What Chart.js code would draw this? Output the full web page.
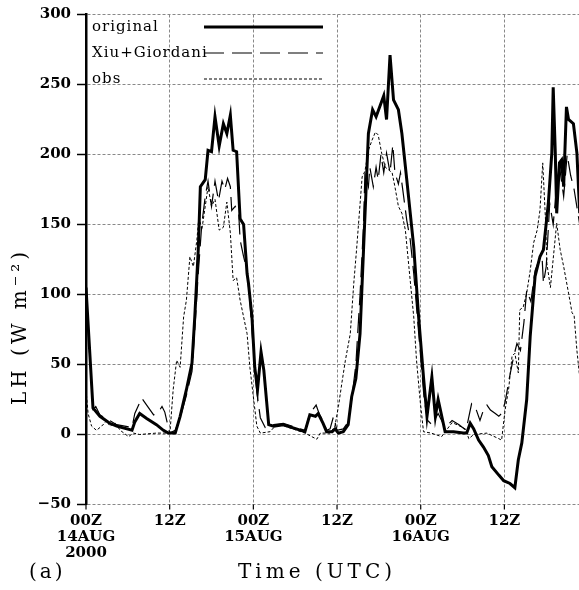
<!DOCTYPE html>
<html>
<head>
<meta charset="utf-8">
<script src="https://cdn.jsdelivr.net/npm/chart.js@4.4.1/dist/chart.umd.min.js"></script>
<style>
  html, body { margin: 0; padding: 0; background: #fff; }
  canvas { display: block; }
</style>
</head>
<body>
<canvas id="lh" width="579" height="590"></canvas>
<script>
// hours since 00Z 14AUG2000, LH in W m-2
const hoursOriginal = [0, 1.0, 2.0, 3.4, 4.4, 6.6, 7.0, 7.7, 8.7, 10.1, 11.1, 11.8, 12.8, 13.5, 14.4, 15.2, 15.6, 16.1, 16.4, 17.1,
  17.5, 18.0, 18.5, 19.1, 19.7, 20.2, 20.7, 21.1, 21.6, 22.1, 22.6, 23.1, 23.3, 23.8, 24.2, 24.6, 25.1, 25.5, 26.2, 26.9,
  28.3, 31.4, 32.1, 32.9, 33.3, 34.0, 34.5, 35.3, 35.7, 36.2, 36.9, 37.6, 38.1, 38.7, 39.3, 39.8, 40.5, 41.1, 41.6, 42.7,
  43.1, 43.6, 44.1, 44.8, 45.3, 46.0, 47.0, 47.7, 48.4, 48.9, 49.6, 50.1, 50.5, 51.5, 52.7, 54.1, 54.6, 55.1, 55.6, 56.3,
  57.0, 57.7, 58.2, 59.2, 59.9, 60.8, 61.5, 62.0, 62.5, 63.2, 63.7, 64.4, 65.1, 65.6, 66.3, 66.8, 67.0, 67.3, 67.5, 67.9,
  68.2, 68.5, 68.9, 69.2, 69.9, 70.4, 70.8];
const lhOriginal = [105, 19, 13, 8, 6, 3, 9, 15, 11.5, 7, 3, 1, 1, 13, 32, 51, 84, 132, 177, 182,
  203, 202, 227, 206, 222, 215, 228, 203, 202, 154, 150, 115, 108, 84, 48, 32, 59, 46, 7, 6,
  7, 2, 14, 13, 15, 8, 2, 2, 4, 1, 2, 7, 27, 40, 72, 132, 215, 232, 227, 242,
  225, 271, 239, 232, 215, 182, 134, 84, 41, 13, 41, 13, 25, 2, 2, 1, 1, 8, 4, -4,
  -9, -15, -23, -29, -33, -35, -38, -18, -6, 25, 70, 113, 127, 132, 165, 201, 248, 201, 158, 194,
  196, 177, 234, 225, 222, 201, 158];

const hoursXiu = [0, 1.0, 1.4, 2.0, 3.4, 4.4, 6.6, 7.0, 8.0, 8.7, 9.7, 10.4, 10.9, 11.3, 12.0, 12.8, 13.5, 14.4, 15.2, 15.6,
  16.1, 16.6, 17.1, 17.5, 18.0, 18.5, 19.0, 19.5, 19.9, 20.3, 20.7, 20.9, 21.4, 21.9, 22.1, 22.6, 23.1, 23.5, 24.0, 24.5,
  25.0, 25.7, 26.9, 28.3, 31.4, 32.1, 33.0, 33.5, 34.0, 34.5, 35.0, 35.5, 36.0, 36.9, 37.6, 38.1, 38.7, 39.3, 39.8, 40.0,
  40.5, 40.7, 41.2, 41.6, 41.9, 42.3, 42.7, 43.1, 43.6, 44.0, 44.3, 44.8, 45.1, 45.5, 46.0, 46.5, 47.0, 47.5, 48.0, 48.5,
  49.0, 49.6, 50.5, 51.5, 52.5, 53.5, 54.5, 55.3, 55.8, 56.5, 57.0, 57.5, 58.0, 58.7, 59.2, 59.6, 60.1, 60.7, 61.3, 61.8,
  62.3, 62.8, 63.2, 63.8, 64.4, 65.0, 65.4, 65.6, 66.0, 66.5, 67.0, 67.5, 68.0, 68.5, 69.0, 69.5, 70.0, 70.8];
const lhXiu = [100, 18, 20, 14, 10, 7, 5, 15, 26, 21, 14, 16, 20, 16, 1, 3, 12, 28, 45, 75,
  115, 150, 170, 181, 163, 181, 167, 181, 175, 183, 177, 160, 163, 158, 139, 127, 117, 95, 60, 30,
  12, 5, 7, 8, 3, 15, 21, 14, 10, 3, 4, 13, 3, 4, 9, 25, 50, 100, 150, 187,
  177, 191, 177, 191, 182, 200, 187, 201, 187, 207, 187, 179, 187, 172, 153, 139, 115, 85, 55, 25,
  10, 7, 15, 5, 10, 7, 3, 22, 20, 10, 17.5, 21, 17.5, 15, 13, 15, 23, 40, 55, 65,
  60, 80, 103, 95, 117, 125, 127, 108, 120, 165, 150, 178, 188, 170, 200, 185, 175, 150];

const hoursObs = [0, 0.3, 0.8, 1.5, 2.25, 3.0, 3.4, 4.2, 4.9, 6.1, 6.8, 7.7, 10.1, 11.8, 12.05, 12.5, 13.0, 13.5, 14.0, 14.4,
  14.9, 15.4, 15.9, 16.2, 16.6, 17.1, 17.5, 18.0, 18.5, 19.1, 19.7, 20.2, 20.7, 21.1, 21.6, 22.1, 23.1, 23.5, 24.0, 24.5,
  25.0, 26.4, 27.4, 28.5, 31.4, 33.1, 33.6, 35.0, 35.7, 36.2, 36.7, 37.2, 37.9, 38.4, 38.8, 39.6, 40.0, 40.5, 41.0, 41.5,
  41.9, 42.4, 42.9, 43.4, 43.9, 44.3, 44.8, 45.3, 45.8, 46.3, 47.0, 47.4, 47.9, 48.4, 49.5, 51.0, 52.5, 53.2, 54.4, 54.9,
  55.6, 57.5, 59.2, 59.6, 60.1, 60.6, 61.1, 61.5, 62.0, 62.2, 62.7, 63.2, 63.7, 64.2, 64.7, 65.1, 65.5, 65.9, 66.1, 66.6,
  67.5, 68.0, 68.5, 69.2, 69.7, 70.0, 70.4, 70.8];
const lhObs = [32, 15, 6, 3, 6, 10, 6, 8, 3, -1.5, 1, 0, 1, 1, 2, 32, 53, 48, 84, 96,
  127, 120, 139, 156, 146, 163, 177, 163, 168, 146, 148, 166, 144, 110, 112, 96, 72, 48, 27, 6,
  1, 2, 7.5, 6, 1, -3.4, 1, 1, 6, 20, 37, 53, 72, 108, 132, 184, 188, 203, 210, 216,
  214, 201, 191, 189, 187, 177, 163, 158, 146, 120, 84, 53, 25, 2, 1, -1.5, 8.5, 7, 4, -3,
  0, 1, -3, -4, 17.5, 32, 56, 58, 44, 89, 91, 101, 117, 137, 146, 160, 194, 153, 122, 105,
  151, 132, 120, 101, 87, 85, 60, 41];

const tickHours = [0, 12, 24, 36, 48, 60];
const tickLabels = [["00Z", "14AUG", "2000"], "12Z", ["00Z", "15AUG"], "12Z", ["00Z", "16AUG"], "12Z"];
const lhTicks = [-50, 0, 50, 100, 150, 200, 250, 300];
const seriesNames = ["original", "Xiu+Giordani", "obs"];

function pts(xs, ys) {
    return xs.map((x, i) => ({ x: x, y: ys[i] }));
}

const styles = [
    { width: 3, dash: [] },
    { width: 1.2, dash: [20, 8] },
    { width: 1, dash: [3, 2] }
];

// tick marks, legend and titles
const textPlugin = {
    id: "textPlugin",
    afterDraw(chart) {
        const ctx = chart.ctx;
        const xs = chart.scales.x, ys = chart.scales.y;
        const area = chart.chartArea;
        ctx.save();
        ctx.fillStyle = "#000";
        ctx.strokeStyle = "#000";

        ctx.lineWidth = 1.5;
        lhTicks.forEach(v => {
            const y = ys.getPixelForValue(v);
            ctx.beginPath();
            ctx.moveTo(area.left - 9, y);
            ctx.lineTo(area.left, y);
            ctx.stroke();
        });
        ctx.lineWidth = 1.2;
        tickHours.forEach(v => {
            const x = xs.getPixelForValue(v);
            ctx.beginPath();
            ctx.moveTo(x, area.bottom);
            ctx.lineTo(x, area.bottom + 5);
            ctx.stroke();
        });

        // legend inside the plot
        ctx.textBaseline = "middle";
        ctx.font = "15px 'DejaVu Serif'";
        ctx.letterSpacing = "1px";
        for (let i = 0; i < seriesNames.length; i++) {
            const y = 27 + i * 26;
            ctx.fillText(seriesNames[i], 92, y);
            ctx.lineWidth = styles[i].width;
            ctx.setLineDash(styles[i].dash);
            ctx.beginPath();
            ctx.moveTo(204, y);
            ctx.lineTo(323, y);
            ctx.stroke();
        }
        ctx.setLineDash([]);

        ctx.font = "20px 'DejaVu Serif'";
        ctx.letterSpacing = "3px";
        ctx.fillText("(a)", 29, 573);
        ctx.letterSpacing = "4px";
        ctx.fillText("Time (UTC)", 238, 573);

        ctx.translate(21, 405);
        ctx.rotate(-Math.PI / 2);
        ctx.fillText("LH (W m⁻²)", 0, 0);
        ctx.restore();
    }
};

new Chart("lh", {
    type: "line",
    data: {
        datasets: [
            { label: seriesNames[0], data: pts(hoursOriginal, lhOriginal) },
            { label: seriesNames[1], data: pts(hoursXiu, lhXiu) },
            { label: seriesNames[2], data: pts(hoursObs, lhObs) }
        ].map((d, i) => Object.assign(d, {
            borderColor: "#000",
            borderWidth: styles[i].width,
            borderDash: styles[i].dash,
            pointRadius: 0,
            tension: 0,
            fill: false
        }))
    },
    options: {
        responsive: false,
        animation: false,
        layout: { padding: { top: 14.5, left: 0, right: 0, bottom: 0 } },
        plugins: { legend: { display: false }, tooltip: { enabled: false } },
        scales: {
            x: {
                type: "linear",
                min: 0,
                max: 70.7,
                afterBuildTicks: s => { s.ticks = tickHours.map(v => ({ value: v })); },
                afterFit: s => { s.height = 85.5; },
                ticks: {
                    autoSkip: false,
                    maxRotation: 0,
                    padding: 9,
                    color: "#000",
                    font: { family: "DejaVu Serif", size: 15, weight: "bold", lineHeight: 1.05 },
                    callback: (v) => tickLabels[tickHours.indexOf(v)]
                },
                grid: { color: "#888", lineWidth: 1, drawTicks: false },
                border: { display: false, dash: [3, 2] }
            },
            y: {
                min: -50,
                max: 300,
                afterBuildTicks: s => { s.ticks = lhTicks.map(v => ({ value: v })); },
                afterFit: s => { s.width = 86; s.paddingTop = 0; s.paddingBottom = 0; },
                ticks: {
                    padding: 15,
                    color: "#000",
                    font: { family: "DejaVu Serif", size: 15, weight: "bold" },
                    callback: v => (v < 0 ? "\u2212" + Math.abs(v) : String(v))
                },
                grid: { color: "#888", lineWidth: 1, drawTicks: false },
                border: { display: true, color: "#000", width: 2.5, dash: [3, 2] }
            }
        }
    },
    plugins: [textPlugin]
});
</script>
</body>
</html>
